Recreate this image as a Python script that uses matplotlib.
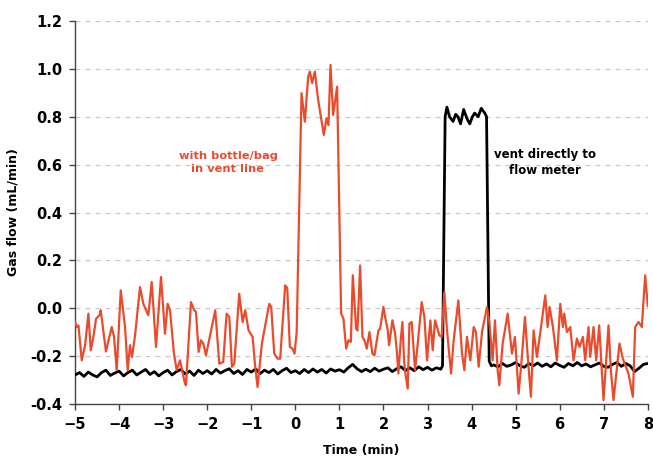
import numpy as np
import matplotlib
matplotlib.use("Agg")
import matplotlib.pyplot as plt

# red trace: with bottle/bag in vent line (time, flow)
red_t = [-5.00, -4.962, -4.924, -4.849, -4.773, -4.698, -4.645, -4.584, -4.524, -4.448,
         -4.418, -4.300, -4.169, -4.116, -4.055, -3.964, -3.866, -3.806, -3.753, -3.707,
         -3.639, -3.526, -3.451, -3.337, -3.261, -3.163, -3.050, -2.959, -2.899, -2.846,
         -2.755, -2.695, -2.619, -2.506,
         -2.483, -2.370, -2.294, -2.256, -2.196, -2.143, -2.090, -2.029, -1.818, -1.727,
         -1.637, -1.561, -1.500, -1.440, -1.387, -1.274, -1.198, -1.138, -1.062, -0.971,
         -0.911, -0.858, -0.760, -0.669, -0.593, -0.548, -0.480, -0.404, -0.344, -0.231,
         -0.185, -0.125, -0.064, -0.019,
         0.03, 0.14, 0.215, 0.291, 0.329, 0.381, 0.442, 0.518, 0.646, 0.707,
         0.752, 0.798, 0.857, 0.948,
         1.039, 1.092, 1.153, 1.206, 1.259, 1.304, 1.379, 1.410, 1.470, 1.523,
         1.568, 1.621, 1.682, 1.750, 1.795, 1.886, 1.924, 1.999, 2.052, 2.098,
         2.128, 2.203, 2.264, 2.302, 2.339, 2.392, 2.430, 2.468, 2.498, 2.551,
         2.589, 2.642, 2.717,
         2.778, 2.868, 2.929, 2.989, 3.065, 3.118, 3.171, 3.216, 3.269, 3.322,
         3.382, 3.443, 3.534, 3.594, 3.700, 3.783, 3.836, 3.896, 3.972, 4.048,
         4.100, 4.161, 4.237, 4.350, 4.403, 4.478, 4.531, 4.592, 4.630, 4.705,
         4.819, 4.917, 4.985, 5.068, 5.136, 5.212, 5.287, 5.348,
         5.408, 5.484, 5.673, 5.726, 5.771, 5.847, 5.937, 6.013, 6.073, 6.104,
         6.164, 6.240, 6.315, 6.391, 6.451, 6.527, 6.580, 6.655, 6.693, 6.769,
         6.829, 6.897, 6.995, 7.109, 7.162, 7.222, 7.358, 7.434, 7.562, 7.661,
         7.714, 7.789, 7.865, 7.941, 8.0]
red_v = [-0.057, -0.078, -0.071, -0.217, -0.154, -0.022, -0.175, -0.119, -0.043, -0.029,
         -0.008, -0.180, -0.078, -0.119, -0.258, 0.075, -0.078, -0.258, -0.154, -0.203,
         -0.113, 0.089, 0.019, -0.029, 0.110, -0.161, 0.131, -0.106, 0.019, -0.008,
         -0.189, -0.258, -0.217, -0.314,
         -0.321, 0.026, -0.008, -0.015, -0.182, -0.133, -0.147, -0.196, -0.008, -0.231,
         -0.224, -0.022, -0.036, -0.244, -0.231, 0.061, -0.057, -0.008, -0.092, -0.119,
         -0.244, -0.328, -0.147, -0.057, 0.019, 0.006, -0.189, -0.210, -0.210, 0.096,
         0.085, -0.161, -0.168, -0.189,
         -0.10, 0.898, 0.779, 0.967, 0.988, 0.940, 0.988, 0.870, 0.724, 0.793,
         0.765, 1.016, 0.807, 0.925,
         -0.022, -0.043, -0.168, -0.133, -0.140, 0.138, -0.085, -0.092, 0.179, -0.119,
         -0.133, -0.168, -0.099, -0.189, -0.196, -0.092, -0.085, 0.006, -0.050, -0.092,
         -0.154, -0.050, -0.106, -0.175, -0.272, -0.133, -0.057, -0.217, -0.272, -0.335,
         -0.064, -0.057, -0.258,
         -0.147, 0.026, -0.036, -0.217, -0.050, -0.175, -0.050, -0.078, -0.113, -0.119,
         0.068, -0.092, -0.272, -0.133, 0.033, -0.189, -0.258, -0.119, -0.217, -0.078,
         -0.099, -0.244, -0.099, 0.006, -0.057, -0.217, -0.050, -0.258, -0.321, -0.147,
         -0.022, -0.189, -0.119, -0.356, -0.217, -0.036, -0.231, -0.369,
         -0.092, -0.203, 0.054, -0.078, 0.006, -0.078, -0.217, 0.019, -0.078, -0.022,
         -0.099, -0.078, -0.217, -0.126, -0.161, -0.119, -0.217, -0.078, -0.203, -0.078,
         -0.217, -0.071, -0.383, -0.071, -0.258, -0.383, -0.147, -0.210, -0.272, -0.369,
         -0.078, -0.057, -0.078, 0.138, 0.01]

# black trace: vent directly to flow meter
# baseline before the pulse, every 0.1 min from -5.0 to 3.3
black_pre = [-0.278, -0.268, -0.284, -0.266, -0.278, -0.286, -0.268, -0.258, -0.280, -0.270,
             -0.262, -0.282, -0.268, -0.258, -0.278, -0.266, -0.255, -0.276, -0.264, -0.282,
             -0.268, -0.258, -0.278, -0.264, -0.255, -0.274, -0.262, -0.280, -0.258, -0.272,
             -0.260, -0.274, -0.255, -0.270, -0.260, -0.252, -0.272, -0.260, -0.276, -0.255,
             -0.266, -0.253, -0.272, -0.258, -0.268, -0.255, -0.274, -0.260, -0.250, -0.268,
             -0.260, -0.272, -0.255, -0.268, -0.253, -0.266, -0.255, -0.270, -0.253, -0.262,
             -0.256, -0.266, -0.248, -0.234, -0.252, -0.264, -0.254, -0.264, -0.250, -0.262,
             -0.254, -0.248, -0.264, -0.252, -0.244, -0.260, -0.248, -0.260, -0.244, -0.256,
             -0.246, -0.258, -0.248, -0.254]
pulse_t = [3.34, 3.40, 3.44, 3.50, 3.58, 3.64, 3.69, 3.75, 3.82, 3.90,
           3.96, 4.02, 4.07, 4.15, 4.22, 4.30, 4.34, 4.40, 4.45]
pulse_v = [-0.24, 0.80, 0.84, 0.80, 0.78, 0.81, 0.80, 0.77, 0.83, 0.79,
           0.77, 0.80, 0.815, 0.80, 0.835, 0.815, 0.80, -0.22, -0.24]
# baseline after the pulse, every 0.1 min from 4.5 to 8.0
black_post = [-0.236, -0.244, -0.230, -0.242, -0.236, -0.226, -0.240, -0.246, -0.230, -0.240,
              -0.228, -0.242, -0.232, -0.244, -0.228, -0.238, -0.246, -0.230, -0.240, -0.226,
              -0.240, -0.232, -0.244, -0.236, -0.228, -0.242, -0.246, -0.234, -0.226, -0.242,
              -0.230, -0.240, -0.264, -0.250, -0.234, -0.230]

black_t = np.concatenate([np.round(np.arange(len(black_pre)) * 0.1 - 5.0, 2),
                          pulse_t,
                          np.round(np.arange(len(black_post)) * 0.1 + 4.5, 2)])
black_v = np.concatenate([black_pre, pulse_v, black_post])

plt.rcParams['font.family'] = ['DejaVu Sans']
plt.rcParams['font.weight'] = 'bold'

fig = plt.figure(figsize=(6.53, 4.63), dpi=100)
ax = fig.add_axes([0.115, 0.127, 0.877, 0.828])

ax.plot(black_t, black_v, color='black', lw=2.0, zorder=3)
ax.plot(red_t, red_v, color='#ea4b2c', lw=1.6, zorder=4)

ax.set_xlim(-5, 8)
ax.set_ylim(-0.4, 1.2)
ax.set_xticks(np.arange(-5, 9, 1))
ax.set_yticks(np.arange(-0.4, 1.21, 0.2))
ax.set_yticklabels(['%.1f' % v for v in np.arange(-0.4, 1.21, 0.2)])
ax.yaxis.grid(True, linestyle=(0, (4, 4)), color='#c8c8c8', lw=0.9)
ax.set_axisbelow(True)

for s in ['top', 'right']:
    ax.spines[s].set_visible(False)
for s in ['left', 'bottom']:
    ax.spines[s].set_color('#444444')
    ax.spines[s].set_linewidth(1.0)
ax.tick_params(direction='out', length=4, width=1, color='#444444',
               labelsize=10.5, pad=5)
for lab in ax.get_xticklabels() + ax.get_yticklabels():
    lab.set_fontweight('bold')

ax.set_xlabel('Time (min)', fontsize=9, fontweight='bold', labelpad=9)
ax.set_ylabel('Gas flow (mL/min)', fontsize=9, fontweight='bold', labelpad=8)

ax.text(-1.53, 0.61, 'with bottle/bag\nin vent line', color='#ea4b2c',
        fontsize=8.2, fontweight='bold', ha='center', va='center', linespacing=1.35)
ax.text(5.66, 0.61, 'vent directly to\nflow meter', color='black',
        fontsize=8.5, fontweight='bold', ha='center', va='center', linespacing=1.3)

fig.savefig('out.png', dpi=100)
